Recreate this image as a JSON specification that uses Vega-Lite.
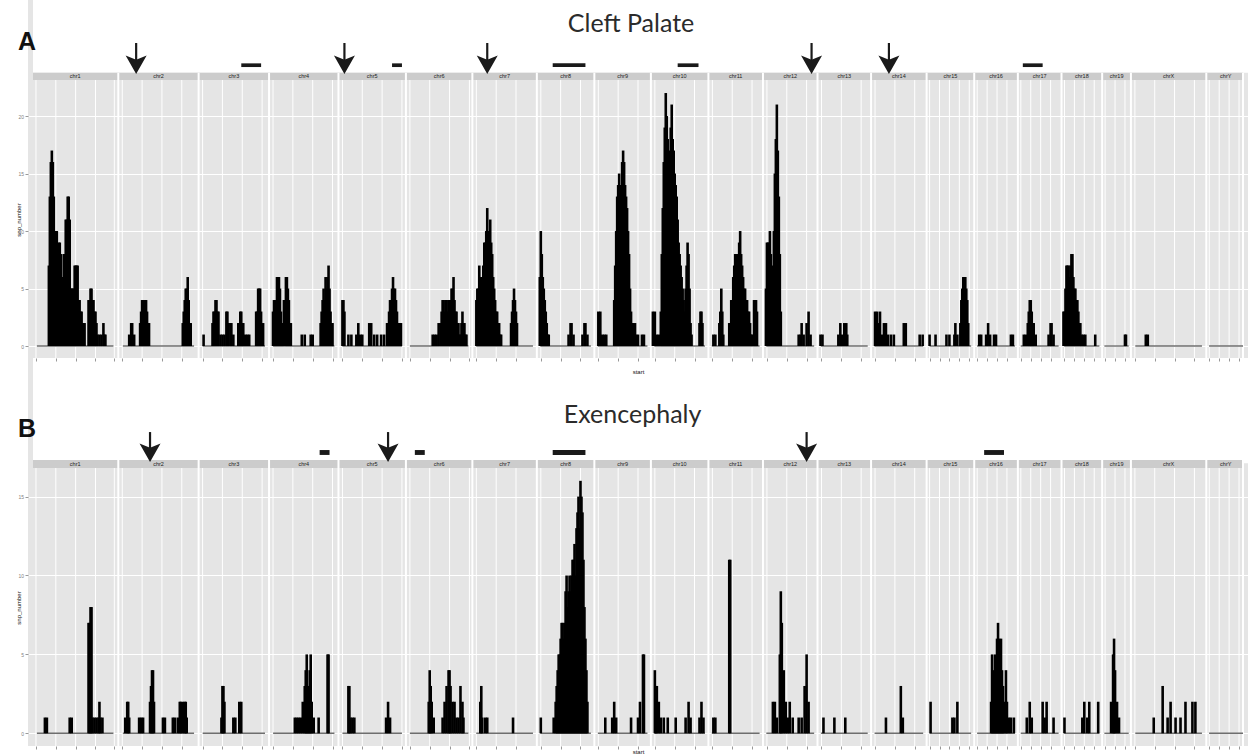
{
  "$schema": "https://vega.github.io/schema/vega-lite/v6.json",
  "width": 1220,
  "height": 746,
  "autosize": {"type": "none"},
  "padding": {"left": 28, "top": 0, "right": 0, "bottom": 10},
  "background": "white",
  "config": {"view": {"fill": "#e5e5e5", "stroke": null}, "font": "Liberation Sans"},
  "datasets": {
    "chroms": [
      {"chr": "chr1", "x0": 0, "x1": 197.8, "mid": 97.8, "lo": 9.0, "hi": 186.5},
      {"chr": "chr2", "x0": 197.8, "x1": 384.1, "mid": 291.0, "lo": 208.4, "hi": 373.5},
      {"chr": "chr3", "x0": 384.1, "x1": 547.4, "mid": 465.8, "lo": 393.5, "hi": 538.0},
      {"chr": "chr4", "x0": 547.4, "x1": 708.4, "mid": 627.9, "lo": 556.8, "hi": 699.0},
      {"chr": "chr5", "x0": 708.4, "x1": 864.8, "mid": 786.6, "lo": 717.6, "hi": 855.6},
      {"chr": "chr6", "x0": 864.8, "x1": 1018.9, "mid": 941.9, "lo": 874.0, "hi": 1009.7},
      {"chr": "chr7", "x0": 1018.9, "x1": 1168.4, "mid": 1093.7, "lo": 1027.9, "hi": 1159.4},
      {"chr": "chr8", "x0": 1168.4, "x1": 1301.8, "mid": 1235.1, "lo": 1176.5, "hi": 1293.8},
      {"chr": "chr9", "x0": 1301.8, "x1": 1432.9, "mid": 1367.4, "lo": 1309.9, "hi": 1424.9},
      {"chr": "chr10", "x0": 1432.9, "x1": 1566.3, "mid": 1499.6, "lo": 1441.0, "hi": 1558.3},
      {"chr": "chr11", "x0": 1566.3, "x1": 1692.8, "mid": 1629.6, "lo": 1574.1, "hi": 1685.0},
      {"chr": "chr12", "x0": 1692.8, "x1": 1819.3, "mid": 1756.1, "lo": 1700.6, "hi": 1811.5},
      {"chr": "chr13", "x0": 1819.3, "x1": 1943.5, "mid": 1881.4, "lo": 1827.1, "hi": 1935.7},
      {"chr": "chr14", "x0": 1943.5, "x1": 2072.3, "mid": 2007.9, "lo": 1951.6, "hi": 2064.3},
      {"chr": "chr15", "x0": 2072.3, "x1": 2182.7, "mid": 2127.5, "lo": 2079.4, "hi": 2175.6},
      {"chr": "chr16", "x0": 2182.7, "x1": 2283.9, "mid": 2233.3, "lo": 2189.4, "hi": 2277.2},
      {"chr": "chr17", "x0": 2283.9, "x1": 2385.1, "mid": 2334.5, "lo": 2290.6, "hi": 2378.4},
      {"chr": "chr18", "x0": 2385.1, "x1": 2479.4, "mid": 2432.3, "lo": 2391.5, "hi": 2473.0},
      {"chr": "chr19", "x0": 2479.4, "x1": 2546.1, "mid": 2512.8, "lo": 2484.5, "hi": 2541.0},
      {"chr": "chrX", "x0": 2546.1, "x1": 2720.9, "mid": 2633.5, "lo": 2556.2, "hi": 2710.8},
      {"chr": "chrY", "x0": 2720.9, "x1": 2806, "mid": 2766, "lo": 2727.3, "hi": 2806}
    ],
    "breaks": [
      {"brk": 6.9}, {"brk": 52.9}, {"brk": 98.9}, {"brk": 144.9}, {"brk": 188.6}, {"brk": 207.0}, {"brk": 253.0}, {"brk": 299.0}, {"brk": 345.0},
      {"brk": 393.3}, {"brk": 439.3}, {"brk": 485.3}, {"brk": 531.3}, {"brk": 556.6}, {"brk": 602.6}, {"brk": 648.6}, {"brk": 694.6},
      {"brk": 717.6}, {"brk": 763.6}, {"brk": 809.6}, {"brk": 855.6}, {"brk": 874.0}, {"brk": 920.0}, {"brk": 966.0}, {"brk": 1012.0},
      {"brk": 1028.1}, {"brk": 1074.1}, {"brk": 1120.1}, {"brk": 1177.6}, {"brk": 1223.6}, {"brk": 1269.6}, {"brk": 1311.0}, {"brk": 1357.0},
      {"brk": 1403.0}, {"brk": 1442.1}, {"brk": 1488.1}, {"brk": 1534.1}, {"brk": 1575.5}, {"brk": 1621.5}, {"brk": 1667.5}, {"brk": 1702.0},
      {"brk": 1748.0}, {"brk": 1794.0}, {"brk": 1828.5}, {"brk": 1874.5}, {"brk": 1920.5}, {"brk": 1952.7}, {"brk": 1998.7}, {"brk": 2044.7},
      {"brk": 2079.2}, {"brk": 2102.2}, {"brk": 2125.2}, {"brk": 2148.2}, {"brk": 2171.2}, {"brk": 2189.6}, {"brk": 2212.6}, {"brk": 2235.6},
      {"brk": 2258.6}, {"brk": 2290.8}, {"brk": 2313.8}, {"brk": 2336.8}, {"brk": 2359.8}, {"brk": 2392.0}, {"brk": 2415.0}, {"brk": 2438.0},
      {"brk": 2461.0}, {"brk": 2486.3}, {"brk": 2509.3}, {"brk": 2532.3}, {"brk": 2555.3}, {"brk": 2601.3}, {"brk": 2647.3}, {"brk": 2693.3},
      {"brk": 2727.8}, {"brk": 2750.8}, {"brk": 2773.8}, {"brk": 2796.8}
    ],
    "cleft": [
      {"start": 36.8, "snp_number": 7}, {"start": 39.1, "snp_number": 13}, {"start": 41.4, "snp_number": 16}, {"start": 43.7, "snp_number": 17},
      {"start": 46.0, "snp_number": 16}, {"start": 48.3, "snp_number": 13}, {"start": 50.6, "snp_number": 10}, {"start": 52.9, "snp_number": 10},
      {"start": 55.2, "snp_number": 10}, {"start": 57.5, "snp_number": 7}, {"start": 59.8, "snp_number": 9}, {"start": 62.1, "snp_number": 9},
      {"start": 64.4, "snp_number": 8}, {"start": 66.7, "snp_number": 6}, {"start": 69.0, "snp_number": 6}, {"start": 71.3, "snp_number": 8},
      {"start": 73.6, "snp_number": 8}, {"start": 75.9, "snp_number": 11}, {"start": 78.2, "snp_number": 11}, {"start": 80.5, "snp_number": 13},
      {"start": 82.8, "snp_number": 13}, {"start": 85.1, "snp_number": 11}, {"start": 87.4, "snp_number": 5}, {"start": 89.7, "snp_number": 5},
      {"start": 92.0, "snp_number": 5}, {"start": 94.3, "snp_number": 5}, {"start": 96.6, "snp_number": 7}, {"start": 98.9, "snp_number": 7},
      {"start": 101.2, "snp_number": 7}, {"start": 103.5, "snp_number": 7}, {"start": 105.8, "snp_number": 4}, {"start": 108.1, "snp_number": 4},
      {"start": 110.4, "snp_number": 3}, {"start": 112.7, "snp_number": 3}, {"start": 115.0, "snp_number": 2}, {"start": 117.3, "snp_number": 2},
      {"start": 119.6, "snp_number": 2}, {"start": 128.8, "snp_number": 4}, {"start": 131.1, "snp_number": 4}, {"start": 133.4, "snp_number": 5},
      {"start": 135.7, "snp_number": 5}, {"start": 138.0, "snp_number": 4}, {"start": 140.3, "snp_number": 4}, {"start": 142.6, "snp_number": 3},
      {"start": 144.9, "snp_number": 3}, {"start": 147.2, "snp_number": 2}, {"start": 149.5, "snp_number": 1}, {"start": 154.1, "snp_number": 1},
      {"start": 158.7, "snp_number": 1}, {"start": 163.3, "snp_number": 2}, {"start": 165.6, "snp_number": 1}, {"start": 167.9, "snp_number": 1},
      {"start": 223.1, "snp_number": 1}, {"start": 227.7, "snp_number": 2}, {"start": 230.0, "snp_number": 2}, {"start": 234.6, "snp_number": 1},
      {"start": 248.4, "snp_number": 2}, {"start": 250.7, "snp_number": 3}, {"start": 253.0, "snp_number": 4}, {"start": 255.3, "snp_number": 4},
      {"start": 257.6, "snp_number": 3}, {"start": 259.9, "snp_number": 4}, {"start": 262.2, "snp_number": 4}, {"start": 264.5, "snp_number": 3},
      {"start": 266.8, "snp_number": 2}, {"start": 269.1, "snp_number": 2}, {"start": 347.3, "snp_number": 2}, {"start": 349.6, "snp_number": 3},
      {"start": 351.9, "snp_number": 4}, {"start": 354.2, "snp_number": 5}, {"start": 356.5, "snp_number": 5}, {"start": 358.8, "snp_number": 6},
      {"start": 361.1, "snp_number": 4}, {"start": 363.4, "snp_number": 2}, {"start": 365.7, "snp_number": 2},
      {"start": 395.6, "snp_number": 1}, {"start": 416.3, "snp_number": 2}, {"start": 418.6, "snp_number": 3}, {"start": 420.9, "snp_number": 3},
      {"start": 423.2, "snp_number": 4}, {"start": 425.5, "snp_number": 4}, {"start": 427.8, "snp_number": 3}, {"start": 430.1, "snp_number": 3},
      {"start": 434.7, "snp_number": 1}, {"start": 439.3, "snp_number": 1}, {"start": 443.9, "snp_number": 1}, {"start": 448.5, "snp_number": 3},
      {"start": 450.8, "snp_number": 3}, {"start": 453.1, "snp_number": 2}, {"start": 457.7, "snp_number": 2}, {"start": 460.0, "snp_number": 2},
      {"start": 464.6, "snp_number": 1}, {"start": 476.1, "snp_number": 2}, {"start": 478.4, "snp_number": 2}, {"start": 480.7, "snp_number": 3},
      {"start": 483.0, "snp_number": 3}, {"start": 485.3, "snp_number": 2}, {"start": 487.6, "snp_number": 2}, {"start": 492.2, "snp_number": 1},
      {"start": 496.8, "snp_number": 1}, {"start": 501.4, "snp_number": 1}, {"start": 517.5, "snp_number": 3}, {"start": 519.8, "snp_number": 3},
      {"start": 522.1, "snp_number": 5}, {"start": 524.4, "snp_number": 5}, {"start": 526.7, "snp_number": 5}, {"start": 529.0, "snp_number": 3},
      {"start": 533.6, "snp_number": 2},
      {"start": 556.6, "snp_number": 3}, {"start": 558.9, "snp_number": 4}, {"start": 561.2, "snp_number": 4}, {"start": 563.5, "snp_number": 3},
      {"start": 565.8, "snp_number": 6}, {"start": 568.1, "snp_number": 6}, {"start": 570.4, "snp_number": 6}, {"start": 572.7, "snp_number": 5},
      {"start": 575.0, "snp_number": 3}, {"start": 577.3, "snp_number": 2}, {"start": 579.6, "snp_number": 2}, {"start": 581.9, "snp_number": 4},
      {"start": 584.2, "snp_number": 4}, {"start": 586.5, "snp_number": 6}, {"start": 588.8, "snp_number": 6}, {"start": 591.1, "snp_number": 5},
      {"start": 593.4, "snp_number": 4}, {"start": 595.7, "snp_number": 2}, {"start": 598.0, "snp_number": 2}, {"start": 623.3, "snp_number": 1},
      {"start": 630.2, "snp_number": 1}, {"start": 644.0, "snp_number": 1}, {"start": 648.6, "snp_number": 1}, {"start": 667.0, "snp_number": 2},
      {"start": 669.3, "snp_number": 3}, {"start": 671.6, "snp_number": 4}, {"start": 673.9, "snp_number": 5}, {"start": 676.2, "snp_number": 4},
      {"start": 678.5, "snp_number": 6}, {"start": 680.8, "snp_number": 5}, {"start": 683.1, "snp_number": 6}, {"start": 685.4, "snp_number": 7},
      {"start": 687.7, "snp_number": 5}, {"start": 690.0, "snp_number": 3}, {"start": 692.3, "snp_number": 2}, {"start": 694.6, "snp_number": 2},
      {"start": 717.6, "snp_number": 4}, {"start": 719.9, "snp_number": 4}, {"start": 722.2, "snp_number": 3}, {"start": 731.4, "snp_number": 1},
      {"start": 738.3, "snp_number": 1}, {"start": 749.8, "snp_number": 1}, {"start": 754.4, "snp_number": 2}, {"start": 759.0, "snp_number": 1},
      {"start": 763.6, "snp_number": 1}, {"start": 779.7, "snp_number": 2}, {"start": 784.3, "snp_number": 2}, {"start": 791.2, "snp_number": 1},
      {"start": 798.1, "snp_number": 1}, {"start": 807.3, "snp_number": 1}, {"start": 814.2, "snp_number": 1}, {"start": 821.1, "snp_number": 2},
      {"start": 823.4, "snp_number": 2}, {"start": 825.7, "snp_number": 3}, {"start": 828.0, "snp_number": 4}, {"start": 830.3, "snp_number": 4},
      {"start": 832.6, "snp_number": 5}, {"start": 834.9, "snp_number": 6}, {"start": 837.2, "snp_number": 5}, {"start": 839.5, "snp_number": 5},
      {"start": 841.8, "snp_number": 4}, {"start": 844.1, "snp_number": 3}, {"start": 846.4, "snp_number": 2}, {"start": 848.7, "snp_number": 2},
      {"start": 851.0, "snp_number": 2}, {"start": 853.3, "snp_number": 2},
      {"start": 926.9, "snp_number": 1}, {"start": 931.5, "snp_number": 1}, {"start": 936.1, "snp_number": 1}, {"start": 940.7, "snp_number": 2},
      {"start": 945.3, "snp_number": 2}, {"start": 947.6, "snp_number": 3}, {"start": 949.9, "snp_number": 4}, {"start": 952.2, "snp_number": 4},
      {"start": 954.5, "snp_number": 3}, {"start": 956.8, "snp_number": 4}, {"start": 959.1, "snp_number": 4}, {"start": 961.4, "snp_number": 3},
      {"start": 963.7, "snp_number": 4}, {"start": 966.0, "snp_number": 4}, {"start": 968.3, "snp_number": 4}, {"start": 970.6, "snp_number": 5},
      {"start": 972.9, "snp_number": 5}, {"start": 975.2, "snp_number": 6}, {"start": 977.5, "snp_number": 4}, {"start": 979.8, "snp_number": 3},
      {"start": 982.1, "snp_number": 3}, {"start": 984.4, "snp_number": 2}, {"start": 986.7, "snp_number": 2}, {"start": 989.0, "snp_number": 1},
      {"start": 991.3, "snp_number": 1}, {"start": 993.6, "snp_number": 2}, {"start": 995.9, "snp_number": 3}, {"start": 998.2, "snp_number": 2},
      {"start": 1000.5, "snp_number": 2}, {"start": 1002.8, "snp_number": 1}, {"start": 1005.1, "snp_number": 1},
      {"start": 1028.1, "snp_number": 4}, {"start": 1030.4, "snp_number": 5}, {"start": 1032.7, "snp_number": 5}, {"start": 1035.0, "snp_number": 7},
      {"start": 1037.3, "snp_number": 5}, {"start": 1039.6, "snp_number": 6}, {"start": 1041.9, "snp_number": 6}, {"start": 1044.2, "snp_number": 7},
      {"start": 1046.5, "snp_number": 9}, {"start": 1048.8, "snp_number": 9}, {"start": 1051.1, "snp_number": 10}, {"start": 1053.4, "snp_number": 12},
      {"start": 1055.7, "snp_number": 10}, {"start": 1058.0, "snp_number": 9}, {"start": 1060.3, "snp_number": 11}, {"start": 1062.6, "snp_number": 9},
      {"start": 1064.9, "snp_number": 8}, {"start": 1067.2, "snp_number": 6}, {"start": 1069.5, "snp_number": 5}, {"start": 1071.8, "snp_number": 4},
      {"start": 1074.1, "snp_number": 3}, {"start": 1076.4, "snp_number": 3}, {"start": 1078.7, "snp_number": 2}, {"start": 1081.0, "snp_number": 2},
      {"start": 1083.3, "snp_number": 1}, {"start": 1085.6, "snp_number": 1}, {"start": 1108.6, "snp_number": 2}, {"start": 1110.9, "snp_number": 3},
      {"start": 1113.2, "snp_number": 4}, {"start": 1115.5, "snp_number": 5}, {"start": 1117.8, "snp_number": 4}, {"start": 1120.1, "snp_number": 3},
      {"start": 1122.4, "snp_number": 2},
      {"start": 1175.3, "snp_number": 6}, {"start": 1177.6, "snp_number": 10}, {"start": 1179.9, "snp_number": 8}, {"start": 1182.2, "snp_number": 6},
      {"start": 1184.5, "snp_number": 5}, {"start": 1186.8, "snp_number": 4}, {"start": 1189.1, "snp_number": 3}, {"start": 1191.4, "snp_number": 2},
      {"start": 1193.7, "snp_number": 1}, {"start": 1196.0, "snp_number": 1}, {"start": 1242.0, "snp_number": 1}, {"start": 1246.6, "snp_number": 2},
      {"start": 1248.9, "snp_number": 2}, {"start": 1253.5, "snp_number": 1}, {"start": 1274.2, "snp_number": 1}, {"start": 1278.8, "snp_number": 2},
      {"start": 1281.1, "snp_number": 2}, {"start": 1285.7, "snp_number": 1},
      {"start": 1311.0, "snp_number": 3}, {"start": 1315.6, "snp_number": 3}, {"start": 1320.2, "snp_number": 1}, {"start": 1324.8, "snp_number": 1},
      {"start": 1329.4, "snp_number": 1}, {"start": 1347.8, "snp_number": 4}, {"start": 1350.1, "snp_number": 7}, {"start": 1352.4, "snp_number": 10},
      {"start": 1354.7, "snp_number": 13}, {"start": 1357.0, "snp_number": 14}, {"start": 1359.3, "snp_number": 15}, {"start": 1361.6, "snp_number": 14},
      {"start": 1363.9, "snp_number": 14}, {"start": 1366.2, "snp_number": 16}, {"start": 1368.5, "snp_number": 17}, {"start": 1370.8, "snp_number": 16},
      {"start": 1373.1, "snp_number": 14}, {"start": 1375.4, "snp_number": 13}, {"start": 1377.7, "snp_number": 12}, {"start": 1380.0, "snp_number": 10},
      {"start": 1382.3, "snp_number": 8}, {"start": 1384.6, "snp_number": 5}, {"start": 1386.9, "snp_number": 3}, {"start": 1389.2, "snp_number": 2},
      {"start": 1391.5, "snp_number": 2}, {"start": 1393.8, "snp_number": 1}, {"start": 1396.1, "snp_number": 2}, {"start": 1398.4, "snp_number": 1},
      {"start": 1403.0, "snp_number": 1}, {"start": 1412.2, "snp_number": 1}, {"start": 1416.8, "snp_number": 1},
      {"start": 1437.5, "snp_number": 3}, {"start": 1442.1, "snp_number": 3}, {"start": 1446.7, "snp_number": 1}, {"start": 1451.3, "snp_number": 1},
      {"start": 1455.9, "snp_number": 3}, {"start": 1458.2, "snp_number": 8}, {"start": 1460.5, "snp_number": 12}, {"start": 1462.8, "snp_number": 16},
      {"start": 1465.1, "snp_number": 19}, {"start": 1467.4, "snp_number": 22}, {"start": 1469.7, "snp_number": 20}, {"start": 1472.0, "snp_number": 18},
      {"start": 1474.3, "snp_number": 15}, {"start": 1476.6, "snp_number": 17}, {"start": 1478.9, "snp_number": 19}, {"start": 1481.2, "snp_number": 21},
      {"start": 1483.5, "snp_number": 18}, {"start": 1485.8, "snp_number": 17}, {"start": 1488.1, "snp_number": 15}, {"start": 1490.4, "snp_number": 14},
      {"start": 1492.7, "snp_number": 13}, {"start": 1495.0, "snp_number": 11}, {"start": 1497.3, "snp_number": 9}, {"start": 1499.6, "snp_number": 8},
      {"start": 1501.9, "snp_number": 7}, {"start": 1504.2, "snp_number": 6}, {"start": 1506.5, "snp_number": 5}, {"start": 1508.8, "snp_number": 4},
      {"start": 1511.1, "snp_number": 3}, {"start": 1513.4, "snp_number": 5}, {"start": 1515.7, "snp_number": 7}, {"start": 1518.0, "snp_number": 9},
      {"start": 1520.3, "snp_number": 8}, {"start": 1522.6, "snp_number": 5}, {"start": 1524.9, "snp_number": 2}, {"start": 1527.2, "snp_number": 1},
      {"start": 1545.6, "snp_number": 2}, {"start": 1547.9, "snp_number": 3}, {"start": 1550.2, "snp_number": 3}, {"start": 1552.5, "snp_number": 2},
      {"start": 1577.8, "snp_number": 1}, {"start": 1582.4, "snp_number": 1}, {"start": 1591.6, "snp_number": 2}, {"start": 1593.9, "snp_number": 3},
      {"start": 1596.2, "snp_number": 5}, {"start": 1598.5, "snp_number": 3}, {"start": 1600.8, "snp_number": 1}, {"start": 1614.6, "snp_number": 2},
      {"start": 1616.9, "snp_number": 2}, {"start": 1619.2, "snp_number": 4}, {"start": 1621.5, "snp_number": 4}, {"start": 1623.8, "snp_number": 6},
      {"start": 1626.1, "snp_number": 7}, {"start": 1628.4, "snp_number": 8}, {"start": 1630.7, "snp_number": 8}, {"start": 1633.0, "snp_number": 7},
      {"start": 1635.3, "snp_number": 8}, {"start": 1637.6, "snp_number": 9}, {"start": 1639.9, "snp_number": 10}, {"start": 1642.2, "snp_number": 8},
      {"start": 1644.5, "snp_number": 7}, {"start": 1646.8, "snp_number": 6}, {"start": 1649.1, "snp_number": 5}, {"start": 1651.4, "snp_number": 5},
      {"start": 1653.7, "snp_number": 4}, {"start": 1656.0, "snp_number": 4}, {"start": 1658.3, "snp_number": 3}, {"start": 1660.6, "snp_number": 3},
      {"start": 1662.9, "snp_number": 2}, {"start": 1665.2, "snp_number": 1}, {"start": 1667.5, "snp_number": 1}, {"start": 1672.1, "snp_number": 4},
      {"start": 1674.4, "snp_number": 4}, {"start": 1676.7, "snp_number": 4}, {"start": 1679.0, "snp_number": 3},
      {"start": 1699.7, "snp_number": 5}, {"start": 1702.0, "snp_number": 9}, {"start": 1704.3, "snp_number": 9}, {"start": 1706.6, "snp_number": 9},
      {"start": 1708.9, "snp_number": 10}, {"start": 1711.2, "snp_number": 8}, {"start": 1713.5, "snp_number": 5}, {"start": 1715.8, "snp_number": 7},
      {"start": 1718.1, "snp_number": 10}, {"start": 1720.4, "snp_number": 15}, {"start": 1722.7, "snp_number": 18}, {"start": 1725.0, "snp_number": 21},
      {"start": 1727.3, "snp_number": 17}, {"start": 1729.6, "snp_number": 13}, {"start": 1731.9, "snp_number": 8}, {"start": 1734.2, "snp_number": 3},
      {"start": 1775.6, "snp_number": 1}, {"start": 1780.2, "snp_number": 1}, {"start": 1782.5, "snp_number": 2}, {"start": 1787.1, "snp_number": 1},
      {"start": 1794.0, "snp_number": 2}, {"start": 1798.6, "snp_number": 3}, {"start": 1803.2, "snp_number": 1},
      {"start": 1826.2, "snp_number": 1}, {"start": 1830.8, "snp_number": 1}, {"start": 1867.6, "snp_number": 1}, {"start": 1872.2, "snp_number": 2},
      {"start": 1876.8, "snp_number": 1}, {"start": 1881.4, "snp_number": 2}, {"start": 1886.0, "snp_number": 2}, {"start": 1888.3, "snp_number": 1},
      {"start": 1952.7, "snp_number": 3}, {"start": 1957.3, "snp_number": 3}, {"start": 1961.9, "snp_number": 2}, {"start": 1964.2, "snp_number": 3},
      {"start": 1968.8, "snp_number": 1}, {"start": 1973.4, "snp_number": 2}, {"start": 1978.0, "snp_number": 2}, {"start": 1982.6, "snp_number": 1},
      {"start": 1989.5, "snp_number": 1}, {"start": 1996.4, "snp_number": 1}, {"start": 2019.4, "snp_number": 2}, {"start": 2024.0, "snp_number": 2},
      {"start": 2056.2, "snp_number": 1}, {"start": 2063.1, "snp_number": 1},
      {"start": 2079.2, "snp_number": 1}, {"start": 2093.0, "snp_number": 1}, {"start": 2118.3, "snp_number": 1}, {"start": 2125.2, "snp_number": 1},
      {"start": 2136.7, "snp_number": 1}, {"start": 2139.0, "snp_number": 2}, {"start": 2143.6, "snp_number": 1}, {"start": 2150.5, "snp_number": 2},
      {"start": 2152.8, "snp_number": 4}, {"start": 2155.1, "snp_number": 5}, {"start": 2157.4, "snp_number": 6}, {"start": 2159.7, "snp_number": 6},
      {"start": 2162.0, "snp_number": 6}, {"start": 2164.3, "snp_number": 5}, {"start": 2166.6, "snp_number": 4}, {"start": 2168.9, "snp_number": 2},
      {"start": 2194.2, "snp_number": 1}, {"start": 2198.8, "snp_number": 1}, {"start": 2210.3, "snp_number": 1}, {"start": 2214.9, "snp_number": 2},
      {"start": 2219.5, "snp_number": 1}, {"start": 2228.7, "snp_number": 1}, {"start": 2233.3, "snp_number": 1}, {"start": 2267.8, "snp_number": 1},
      {"start": 2272.4, "snp_number": 1},
      {"start": 2297.7, "snp_number": 1}, {"start": 2302.3, "snp_number": 1}, {"start": 2306.9, "snp_number": 2}, {"start": 2309.2, "snp_number": 3},
      {"start": 2311.5, "snp_number": 4}, {"start": 2313.8, "snp_number": 4}, {"start": 2316.1, "snp_number": 3}, {"start": 2318.4, "snp_number": 2},
      {"start": 2320.7, "snp_number": 2}, {"start": 2325.3, "snp_number": 1}, {"start": 2355.2, "snp_number": 1}, {"start": 2359.8, "snp_number": 2},
      {"start": 2362.1, "snp_number": 2}, {"start": 2366.7, "snp_number": 1},
      {"start": 2389.7, "snp_number": 3}, {"start": 2392.0, "snp_number": 3}, {"start": 2394.3, "snp_number": 5}, {"start": 2396.6, "snp_number": 7},
      {"start": 2398.9, "snp_number": 7}, {"start": 2401.2, "snp_number": 7}, {"start": 2403.5, "snp_number": 6}, {"start": 2405.8, "snp_number": 7},
      {"start": 2408.1, "snp_number": 8}, {"start": 2410.4, "snp_number": 8}, {"start": 2412.7, "snp_number": 6}, {"start": 2415.0, "snp_number": 5},
      {"start": 2417.3, "snp_number": 5}, {"start": 2419.6, "snp_number": 4}, {"start": 2421.9, "snp_number": 4}, {"start": 2424.2, "snp_number": 3},
      {"start": 2426.5, "snp_number": 2}, {"start": 2428.8, "snp_number": 2}, {"start": 2431.1, "snp_number": 1}, {"start": 2435.7, "snp_number": 1},
      {"start": 2440.3, "snp_number": 1}, {"start": 2463.3, "snp_number": 1},
      {"start": 2532.3, "snp_number": 1}, {"start": 2534.6, "snp_number": 1}, {"start": 2580.6, "snp_number": 1}, {"start": 2585.2, "snp_number": 1}
    ],
    "exen": [
      {"start": 27.6, "snp_number": 1}, {"start": 32.2, "snp_number": 1}, {"start": 85.1, "snp_number": 1}, {"start": 89.7, "snp_number": 1},
      {"start": 128.8, "snp_number": 7}, {"start": 131.1, "snp_number": 7}, {"start": 133.4, "snp_number": 8}, {"start": 135.7, "snp_number": 8},
      {"start": 138.0, "snp_number": 1}, {"start": 142.6, "snp_number": 1}, {"start": 147.2, "snp_number": 1}, {"start": 151.8, "snp_number": 1},
      {"start": 154.1, "snp_number": 2}, {"start": 156.4, "snp_number": 1}, {"start": 161.0, "snp_number": 1},
      {"start": 213.9, "snp_number": 1}, {"start": 218.5, "snp_number": 2}, {"start": 220.8, "snp_number": 2}, {"start": 223.1, "snp_number": 1},
      {"start": 246.1, "snp_number": 1}, {"start": 250.7, "snp_number": 1}, {"start": 255.3, "snp_number": 1}, {"start": 271.4, "snp_number": 2},
      {"start": 273.7, "snp_number": 3}, {"start": 276.0, "snp_number": 4}, {"start": 278.3, "snp_number": 4}, {"start": 280.6, "snp_number": 2},
      {"start": 301.3, "snp_number": 1}, {"start": 305.9, "snp_number": 1}, {"start": 324.3, "snp_number": 1}, {"start": 328.9, "snp_number": 1},
      {"start": 335.8, "snp_number": 1}, {"start": 340.4, "snp_number": 2}, {"start": 342.7, "snp_number": 2}, {"start": 347.3, "snp_number": 2},
      {"start": 351.9, "snp_number": 2}, {"start": 354.2, "snp_number": 2}, {"start": 356.5, "snp_number": 1},
      {"start": 437.0, "snp_number": 1}, {"start": 439.3, "snp_number": 3}, {"start": 441.6, "snp_number": 3}, {"start": 443.9, "snp_number": 2},
      {"start": 464.6, "snp_number": 1}, {"start": 469.2, "snp_number": 1}, {"start": 478.4, "snp_number": 2}, {"start": 483.0, "snp_number": 2},
      {"start": 607.2, "snp_number": 1}, {"start": 611.8, "snp_number": 1}, {"start": 616.4, "snp_number": 1}, {"start": 621.0, "snp_number": 1},
      {"start": 625.6, "snp_number": 2}, {"start": 630.2, "snp_number": 3}, {"start": 632.5, "snp_number": 4}, {"start": 634.8, "snp_number": 5},
      {"start": 637.1, "snp_number": 3}, {"start": 639.4, "snp_number": 2}, {"start": 641.7, "snp_number": 4}, {"start": 644.0, "snp_number": 5},
      {"start": 646.3, "snp_number": 2}, {"start": 650.9, "snp_number": 1}, {"start": 662.4, "snp_number": 1}, {"start": 683.1, "snp_number": 5},
      {"start": 685.4, "snp_number": 5},
      {"start": 731.4, "snp_number": 3}, {"start": 733.7, "snp_number": 3}, {"start": 736.0, "snp_number": 1}, {"start": 740.6, "snp_number": 1},
      {"start": 745.2, "snp_number": 1}, {"start": 818.8, "snp_number": 1}, {"start": 823.4, "snp_number": 2}, {"start": 828.0, "snp_number": 1},
      {"start": 917.7, "snp_number": 2}, {"start": 920.0, "snp_number": 4}, {"start": 922.3, "snp_number": 3}, {"start": 924.6, "snp_number": 2},
      {"start": 929.2, "snp_number": 1}, {"start": 949.9, "snp_number": 1}, {"start": 954.5, "snp_number": 2}, {"start": 959.1, "snp_number": 3},
      {"start": 963.7, "snp_number": 4}, {"start": 966.0, "snp_number": 4}, {"start": 968.3, "snp_number": 3}, {"start": 972.9, "snp_number": 2},
      {"start": 977.5, "snp_number": 2}, {"start": 982.1, "snp_number": 1}, {"start": 986.7, "snp_number": 1}, {"start": 991.3, "snp_number": 3},
      {"start": 995.9, "snp_number": 2}, {"start": 998.2, "snp_number": 1},
      {"start": 1037.3, "snp_number": 2}, {"start": 1039.6, "snp_number": 3}, {"start": 1041.9, "snp_number": 1}, {"start": 1048.8, "snp_number": 1},
      {"start": 1053.4, "snp_number": 1}, {"start": 1113.2, "snp_number": 1},
      {"start": 1177.6, "snp_number": 1}, {"start": 1207.5, "snp_number": 1}, {"start": 1212.1, "snp_number": 2}, {"start": 1214.4, "snp_number": 3},
      {"start": 1216.7, "snp_number": 4}, {"start": 1219.0, "snp_number": 5}, {"start": 1221.3, "snp_number": 5}, {"start": 1223.6, "snp_number": 6},
      {"start": 1225.9, "snp_number": 7}, {"start": 1228.2, "snp_number": 7}, {"start": 1230.5, "snp_number": 6}, {"start": 1232.8, "snp_number": 7},
      {"start": 1235.1, "snp_number": 9}, {"start": 1237.4, "snp_number": 10}, {"start": 1239.7, "snp_number": 8}, {"start": 1242.0, "snp_number": 9},
      {"start": 1244.3, "snp_number": 10}, {"start": 1246.6, "snp_number": 9}, {"start": 1248.9, "snp_number": 10}, {"start": 1251.2, "snp_number": 11},
      {"start": 1253.5, "snp_number": 11}, {"start": 1255.8, "snp_number": 12}, {"start": 1258.1, "snp_number": 10}, {"start": 1260.4, "snp_number": 13},
      {"start": 1262.7, "snp_number": 14}, {"start": 1265.0, "snp_number": 15}, {"start": 1267.3, "snp_number": 13}, {"start": 1269.6, "snp_number": 16},
      {"start": 1271.9, "snp_number": 15}, {"start": 1274.2, "snp_number": 14}, {"start": 1276.5, "snp_number": 11}, {"start": 1278.8, "snp_number": 8},
      {"start": 1281.1, "snp_number": 6}, {"start": 1283.4, "snp_number": 4}, {"start": 1285.7, "snp_number": 2},
      {"start": 1327.1, "snp_number": 1}, {"start": 1343.2, "snp_number": 1}, {"start": 1347.8, "snp_number": 2}, {"start": 1352.4, "snp_number": 1},
      {"start": 1386.9, "snp_number": 1}, {"start": 1403.0, "snp_number": 1}, {"start": 1407.6, "snp_number": 2}, {"start": 1414.5, "snp_number": 5},
      {"start": 1416.8, "snp_number": 5},
      {"start": 1442.1, "snp_number": 4}, {"start": 1444.4, "snp_number": 3}, {"start": 1446.7, "snp_number": 3}, {"start": 1451.3, "snp_number": 2},
      {"start": 1455.9, "snp_number": 1}, {"start": 1462.8, "snp_number": 1}, {"start": 1472.0, "snp_number": 1}, {"start": 1490.4, "snp_number": 1},
      {"start": 1513.4, "snp_number": 1}, {"start": 1520.3, "snp_number": 2}, {"start": 1524.9, "snp_number": 1}, {"start": 1545.6, "snp_number": 1},
      {"start": 1550.2, "snp_number": 2}, {"start": 1554.8, "snp_number": 1},
      {"start": 1577.8, "snp_number": 1}, {"start": 1582.4, "snp_number": 1}, {"start": 1614.6, "snp_number": 11}, {"start": 1616.9, "snp_number": 11},
      {"start": 1715.8, "snp_number": 2}, {"start": 1720.4, "snp_number": 2}, {"start": 1725.0, "snp_number": 1}, {"start": 1731.9, "snp_number": 5},
      {"start": 1734.2, "snp_number": 9}, {"start": 1736.5, "snp_number": 7}, {"start": 1741.1, "snp_number": 4}, {"start": 1745.7, "snp_number": 2},
      {"start": 1750.3, "snp_number": 1}, {"start": 1754.9, "snp_number": 2}, {"start": 1761.8, "snp_number": 1}, {"start": 1775.6, "snp_number": 1},
      {"start": 1782.5, "snp_number": 1}, {"start": 1789.4, "snp_number": 3}, {"start": 1794.0, "snp_number": 5}, {"start": 1798.6, "snp_number": 2},
      {"start": 1833.1, "snp_number": 1}, {"start": 1858.4, "snp_number": 1}, {"start": 1883.7, "snp_number": 1},
      {"start": 1978.0, "snp_number": 1}, {"start": 2012.5, "snp_number": 3}, {"start": 2017.1, "snp_number": 1},
      {"start": 2081.5, "snp_number": 2}, {"start": 2132.1, "snp_number": 1}, {"start": 2136.7, "snp_number": 1}, {"start": 2143.6, "snp_number": 2},
      {"start": 2221.8, "snp_number": 2}, {"start": 2224.1, "snp_number": 5}, {"start": 2226.4, "snp_number": 4}, {"start": 2228.7, "snp_number": 3},
      {"start": 2231.0, "snp_number": 5}, {"start": 2233.3, "snp_number": 4}, {"start": 2235.6, "snp_number": 6}, {"start": 2237.9, "snp_number": 7},
      {"start": 2240.2, "snp_number": 6}, {"start": 2242.5, "snp_number": 4}, {"start": 2244.8, "snp_number": 6}, {"start": 2247.1, "snp_number": 4},
      {"start": 2249.4, "snp_number": 3}, {"start": 2251.7, "snp_number": 2}, {"start": 2256.3, "snp_number": 4}, {"start": 2258.6, "snp_number": 2},
      {"start": 2263.2, "snp_number": 1}, {"start": 2267.8, "snp_number": 1}, {"start": 2274.7, "snp_number": 1},
      {"start": 2304.6, "snp_number": 1}, {"start": 2311.5, "snp_number": 2}, {"start": 2316.1, "snp_number": 1}, {"start": 2341.4, "snp_number": 2},
      {"start": 2346.0, "snp_number": 1}, {"start": 2350.6, "snp_number": 2}, {"start": 2366.7, "snp_number": 1},
      {"start": 2392.0, "snp_number": 1}, {"start": 2433.4, "snp_number": 1}, {"start": 2438.0, "snp_number": 2}, {"start": 2444.9, "snp_number": 1},
      {"start": 2449.5, "snp_number": 2}, {"start": 2470.2, "snp_number": 2},
      {"start": 2500.1, "snp_number": 2}, {"start": 2504.7, "snp_number": 5}, {"start": 2507.0, "snp_number": 6}, {"start": 2509.3, "snp_number": 4},
      {"start": 2513.9, "snp_number": 2}, {"start": 2518.5, "snp_number": 1},
      {"start": 2599.0, "snp_number": 1}, {"start": 2619.7, "snp_number": 3}, {"start": 2631.2, "snp_number": 1}, {"start": 2638.1, "snp_number": 2},
      {"start": 2649.6, "snp_number": 1}, {"start": 2661.1, "snp_number": 1}, {"start": 2672.6, "snp_number": 2}, {"start": 2688.7, "snp_number": 2},
      {"start": 2695.6, "snp_number": 2}
    ],
    "cleftArrows": [{"start": 239.2}, {"start": 722.2}, {"start": 1053.4}, {"start": 1805.5}, {"start": 1984.9}],
    "cleftRegions": [
      {"region_start": 483.0, "region_end": 529.0}, {"region_start": 832.6, "region_end": 855.6},
      {"region_start": 1205.2, "region_end": 1281.1}, {"region_start": 1495.0, "region_end": 1543.3},
      {"region_start": 2295.4, "region_end": 2341.4}
    ],
    "exenArrows": [{"start": 271.4}, {"start": 823.4}, {"start": 1794.0}],
    "exenRegions": [
      {"region_start": 664.7, "region_end": 687.7}, {"region_start": 885.5, "region_end": 908.5},
      {"region_start": 1205.2, "region_end": 1281.1}, {"region_start": 2205.7, "region_end": 2251.7}
    ]
  },
  "resolve": {"scale": {"y": "independent"}, "axis": {"x": "independent", "y": "independent"}},
  "layer": [
    {
      "layer": [
        {"data": {"values": [{"band": "top"}]}, "mark": {"type": "rect", "color": "white"},
         "encoding": {"x": {"datum": 0, "type": "quantitative"}, "x2": {"datum": 2830}, "y": {"datum": 23.77, "type": "quantitative"}, "y2": {"datum": 31}}},
        {"data": {"values": [{"band": "between"}]}, "mark": {"type": "rect", "color": "white"},
         "encoding": {"x": {"datum": 0, "type": "quantitative"}, "x2": {"datum": 2830}, "y": {"datum": -1.05, "type": "quantitative"}, "y2": {"datum": -10.2}}},
        {"data": {"name": "breaks"}, "mark": {"type": "rule", "color": "white", "strokeWidth": 1},
         "encoding": {"x": {"field": "brk", "type": "quantitative"}, "y": {"datum": -1.05, "type": "quantitative"}, "y2": {"datum": 23.13}}},
        {"data": {"name": "chroms"}, "mark": {"type": "rect", "color": "#cccccc"},
         "encoding": {"x": {"field": "x0", "type": "quantitative"}, "x2": {"field": "x1"}, "y": {"datum": 23.13, "type": "quantitative"}, "y2": {"datum": 23.77}}},
        {"data": {"name": "chroms"}, "mark": {"type": "text", "fontSize": 5.5, "color": "#222222", "baseline": "middle", "align": "center"},
         "encoding": {"x": {"field": "mid", "type": "quantitative"}, "y": {"datum": 23.45, "type": "quantitative"}, "text": {"field": "chr"}}},
        {"data": {"name": "chroms"}, "mark": {"type": "rule", "color": "white", "strokeWidth": 2},
         "encoding": {"x": {"field": "x1", "type": "quantitative"}, "y": {"datum": -1.05, "type": "quantitative"}, "y2": {"datum": 23.77}}},
        {"data": {"name": "chroms"}, "mark": {"type": "rule", "color": "#6e6e6e", "strokeWidth": 1.4},
         "encoding": {"x": {"field": "lo", "type": "quantitative"}, "x2": {"field": "hi"}, "y": {"datum": 0, "type": "quantitative"}}},
        {"data": {"name": "cleft"}, "mark": {"type": "bar", "color": "black", "width": 2.6},
         "encoding": {
           "x": {"field": "start", "type": "quantitative",
                 "scale": {"domain": [0, 2806], "nice": false, "zero": false},
                 "axis": {"orient": "bottom", "offset": -388, "tickCount": 300, "values": [6.9, 52.9, 98.9, 144.9, 188.6, 207.0, 253.0, 299.0, 345.0, 393.3, 439.3, 485.3, 531.3, 556.6, 602.6, 648.6, 694.6, 717.6, 763.6, 809.6, 855.6, 874.0, 920.0, 966.0, 1012.0, 1028.1, 1074.1, 1120.1, 1177.6, 1223.6, 1269.6, 1311.0, 1357.0, 1403.0, 1442.1, 1488.1, 1534.1, 1575.5, 1621.5, 1667.5, 1702.0, 1748.0, 1794.0, 1828.5, 1874.5, 1920.5, 1952.7, 1998.7, 2044.7, 2079.2, 2102.2, 2125.2, 2148.2, 2171.2, 2189.6, 2212.6, 2235.6, 2258.6, 2290.8, 2313.8, 2336.8, 2359.8, 2392.0, 2415.0, 2438.0, 2461.0, 2486.3, 2509.3, 2532.3, 2555.3, 2601.3, 2647.3, 2693.3, 2727.8, 2750.8, 2773.8, 2796.8],
                          "grid": false, "labels": false, "domain": false, "tickColor": "#7f7f7f", "tickSize": 3, "tickWidth": 0.8,
                          "title": "start", "titleFontSize": 6, "titleFontWeight": "normal", "titleColor": "#111111", "titlePadding": 7, "zindex": 1}},
           "y": {"field": "snp_number", "type": "quantitative",
                 "scale": {"domain": [-34.78, 30.09], "nice": false, "zero": false},
                 "axis": {"orient": "left", "values": [0, 5, 10, 15, 20], "grid": true, "gridColor": "white", "gridWidth": 1, "domain": false,
                          "tickColor": "#7f7f7f", "tickSize": 3, "tickWidth": 0.8, "labelFontSize": 5, "labelColor": "#7f7f7f", "labelPadding": 1.5, "title": null}}
         }},
        {"data": {"name": "cleftArrows"}, "mark": {"type": "rule", "color": "#1a1a1a", "strokeWidth": 2.2},
         "encoding": {"x": {"field": "start", "type": "quantitative"}, "y": {"datum": 26.35, "type": "quantitative"}, "y2": {"datum": 24.87}}},
        {"data": {"name": "cleftArrows"}, "mark": {"type": "point", "shape": "M0,1 L-1,-0.75 L0,-0.35 L1,-0.75 Z", "filled": true, "size": 441, "color": "#1a1a1a", "opacity": 1},
         "encoding": {"x": {"field": "start", "type": "quantitative"}, "y": {"datum": 24.57, "type": "quantitative"}}},
        {"data": {"name": "cleftRegions"}, "mark": {"type": "rect", "color": "#1a1a1a"},
         "encoding": {"x": {"field": "region_start", "type": "quantitative"}, "x2": {"field": "region_end"}, "y": {"datum": 24.58, "type": "quantitative"}, "y2": {"datum": 24.26}}},
        {"data": {"values": [{"title": "Cleft Palate"}]}, "mark": {"type": "text", "font": "Lato", "fontSize": 25, "color": "#2b2b2b", "baseline": "alphabetic", "align": "center"},
         "encoding": {"x": {"datum": 1386.9, "type": "quantitative"}, "y": {"datum": 27.33, "type": "quantitative"}, "text": {"field": "title"}}},
        {"data": {"values": [{"panel": "A"}]}, "mark": {"type": "text", "fontSize": 25, "fontWeight": "bold", "color": "#111111", "baseline": "alphabetic", "align": "center"},
         "encoding": {"x": {"datum": -13.8, "type": "quantitative"}, "y": {"datum": 25.74, "type": "quantitative"}, "text": {"field": "panel"}}},
        {"data": {"values": [{"label": "snp_number"}]}, "mark": {"type": "text", "fontSize": 6, "angle": 270, "color": "#111111", "baseline": "middle", "align": "center"},
         "encoding": {"x": {"datum": -32.2, "type": "quantitative"}, "y": {"datum": 10.96, "type": "quantitative"}, "text": {"field": "label"}}}
      ]
    },
    {
      "layer": [
        {"data": {"name": "breaks"}, "mark": {"type": "rule", "color": "white", "strokeWidth": 1},
         "encoding": {"x": {"field": "brk", "type": "quantitative"}, "y": {"datum": -0.805, "type": "quantitative"}, "y2": {"datum": 16.81}}},
        {"data": {"name": "chroms"}, "mark": {"type": "rect", "color": "#cccccc"},
         "encoding": {"x": {"field": "x0", "type": "quantitative"}, "x2": {"field": "x1"}, "y": {"datum": 16.81, "type": "quantitative"}, "y2": {"datum": 17.32}}},
        {"data": {"name": "chroms"}, "mark": {"type": "text", "fontSize": 5.5, "color": "#222222", "baseline": "middle", "align": "center"},
         "encoding": {"x": {"field": "mid", "type": "quantitative"}, "y": {"datum": 17.07, "type": "quantitative"}, "text": {"field": "chr"}}},
        {"data": {"name": "chroms"}, "mark": {"type": "rule", "color": "white", "strokeWidth": 2},
         "encoding": {"x": {"field": "x1", "type": "quantitative"}, "y": {"datum": -0.805, "type": "quantitative"}, "y2": {"datum": 17.32}}},
        {"data": {"name": "chroms"}, "mark": {"type": "rule", "color": "#6e6e6e", "strokeWidth": 1.4},
         "encoding": {"x": {"field": "lo", "type": "quantitative"}, "x2": {"field": "hi"}, "y": {"datum": 0, "type": "quantitative"}}},
        {"data": {"name": "exen"}, "mark": {"type": "bar", "color": "black", "width": 2.6},
         "encoding": {
           "x": {"field": "start", "type": "quantitative",
                 "scale": {"domain": [0, 2806], "nice": false, "zero": false},
                 "axis": {"orient": "bottom", "tickCount": 300, "values": [6.9, 52.9, 98.9, 144.9, 188.6, 207.0, 253.0, 299.0, 345.0, 393.3, 439.3, 485.3, 531.3, 556.6, 602.6, 648.6, 694.6, 717.6, 763.6, 809.6, 855.6, 874.0, 920.0, 966.0, 1012.0, 1028.1, 1074.1, 1120.1, 1177.6, 1223.6, 1269.6, 1311.0, 1357.0, 1403.0, 1442.1, 1488.1, 1534.1, 1575.5, 1621.5, 1667.5, 1702.0, 1748.0, 1794.0, 1828.5, 1874.5, 1920.5, 1952.7, 1998.7, 2044.7, 2079.2, 2102.2, 2125.2, 2148.2, 2171.2, 2189.6, 2212.6, 2235.6, 2258.6, 2290.8, 2313.8, 2336.8, 2359.8, 2392.0, 2415.0, 2438.0, 2461.0, 2486.3, 2509.3, 2532.3, 2555.3, 2601.3, 2647.3, 2693.3, 2727.8, 2750.8, 2773.8, 2796.8],
                          "grid": false, "labels": false, "domain": false, "tickColor": "#7f7f7f", "tickSize": 3, "tickWidth": 0.8,
                          "title": "start", "titleFontSize": 6, "titleFontWeight": "normal", "titleColor": "#111111", "titlePadding": -1}},
           "y": {"field": "snp_number", "type": "quantitative",
                 "scale": {"domain": [-0.805, 46.47], "nice": false, "zero": false},
                 "axis": {"orient": "left", "values": [0, 5, 10, 15], "grid": true, "gridColor": "white", "gridWidth": 1, "domain": false,
                          "tickColor": "#7f7f7f", "tickSize": 3, "tickWidth": 0.8, "labelFontSize": 5, "labelColor": "#7f7f7f", "labelPadding": 1.5, "title": null}}
         }},
        {"data": {"name": "exenArrows"}, "mark": {"type": "rule", "color": "#1a1a1a", "strokeWidth": 2.2},
         "encoding": {"x": {"field": "start", "type": "quantitative"}, "y": {"datum": 19.09, "type": "quantitative"}, "y2": {"datum": 18.02}}},
        {"data": {"name": "exenArrows"}, "mark": {"type": "point", "shape": "M0,1 L-1,-0.75 L0,-0.35 L1,-0.75 Z", "filled": true, "size": 441, "color": "#1a1a1a", "opacity": 1},
         "encoding": {"x": {"field": "start", "type": "quantitative"}, "y": {"datum": 17.86, "type": "quantitative"}}},
        {"data": {"name": "exenRegions"}, "mark": {"type": "rect", "color": "#1a1a1a"},
         "encoding": {"x": {"field": "region_start", "type": "quantitative"}, "x2": {"field": "region_end"}, "y": {"datum": 17.95, "type": "quantitative"}, "y2": {"datum": 17.64}}},
        {"data": {"values": [{"title": "Exencephaly"}]}, "mark": {"type": "text", "font": "Lato", "fontSize": 25, "color": "#2b2b2b", "baseline": "alphabetic", "align": "center"},
         "encoding": {"x": {"datum": 1390.4, "type": "quantitative"}, "y": {"datum": 19.65, "type": "quantitative"}, "text": {"field": "title"}}},
        {"data": {"values": [{"panel": "B"}]}, "mark": {"type": "text", "fontSize": 25, "fontWeight": "bold", "color": "#111111", "baseline": "alphabetic", "align": "center"},
         "encoding": {"x": {"datum": -13.8, "type": "quantitative"}, "y": {"datum": 18.8, "type": "quantitative"}, "text": {"field": "panel"}}},
        {"data": {"values": [{"label": "snp_number"}]}, "mark": {"type": "text", "fontSize": 6, "angle": 270, "color": "#111111", "baseline": "middle", "align": "center"},
         "encoding": {"x": {"datum": -32.2, "type": "quantitative"}, "y": {"datum": 7.94, "type": "quantitative"}, "text": {"field": "label"}}}
      ]
    }
  ]
}
